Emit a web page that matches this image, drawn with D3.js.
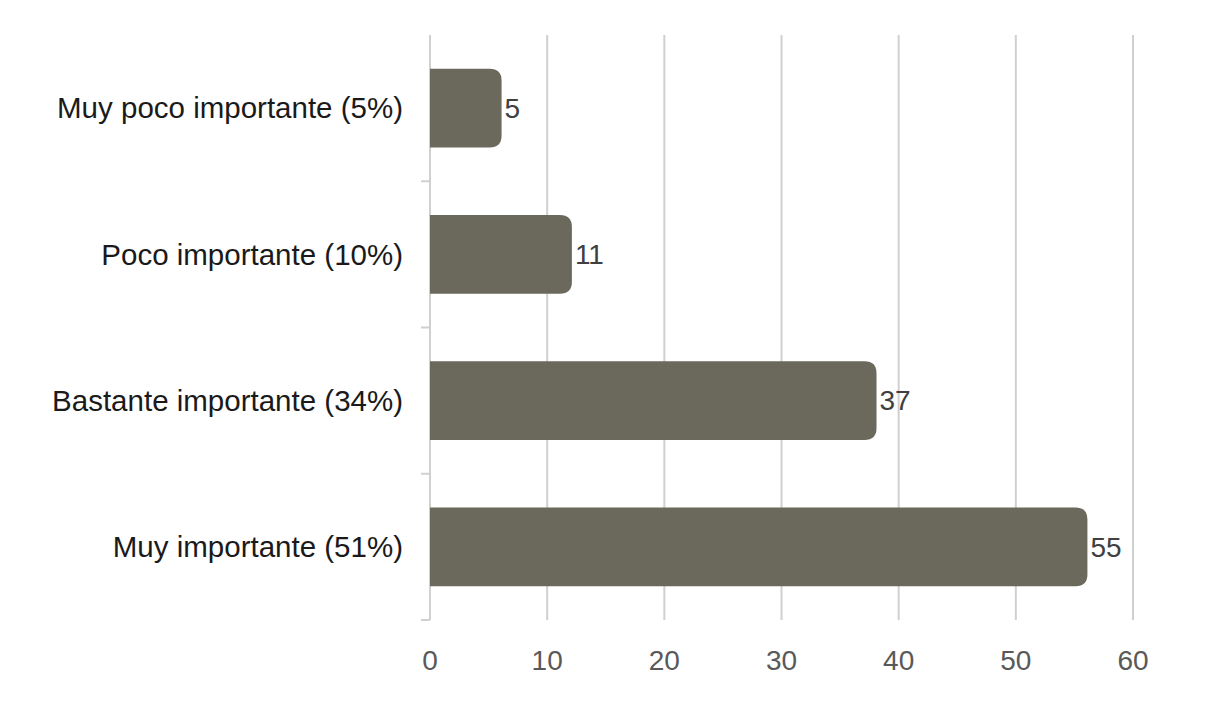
<!DOCTYPE html>
<html><head><meta charset="utf-8">
<script src="https://cdn.jsdelivr.net/npm/d3@7"></script>
<style>body{margin:0;background:#fff;} svg{display:block;font-family:"Liberation Sans",Arial,sans-serif;}</style>
</head><body><svg id="c" width="1206" height="711"></svg>
<script>
const categories = ["Muy poco importante (5%)","Poco importante (10%)","Bastante importante (34%)","Muy importante (51%)"];
const values = [5, 11, 37, 55];
const xTicks = [0, 10, 20, 30, 40, 50, 60];

const svg = d3.select("#c");
const m = {l:430, r:1133, t:35, b:620};
const x = d3.scaleLinear().domain([0,60]).range([m.l, m.r]);
const y = d3.scaleBand().domain(categories).range([m.t, m.b]).paddingInner(0.46).paddingOuter(0.23);
const capExtra = 13, rad = 12;

// gridlines
svg.append("g").selectAll("line").data(xTicks.slice(1)).join("line")
  .attr("x1", d=>x(d)).attr("x2", d=>x(d)).attr("y1", m.t).attr("y2", m.b)
  .attr("stroke","#d0d0d0").attr("stroke-width",2);

// left axis line and category ticks
svg.append("line").attr("x1",m.l).attr("x2",m.l).attr("y1",m.t).attr("y2",m.b).attr("stroke","#d0d0d0").attr("stroke-width",2);
const bounds = categories.map((c,i)=> m.t + (i+1)*(m.b-m.t)/categories.length);
svg.append("g").selectAll("line").data(bounds).join("line")
  .attr("x1", m.l-9).attr("x2", m.l).attr("y1", d=>d).attr("y2", d=>d)
  .attr("stroke","#d0d0d0").attr("stroke-width",2);

// bars: flat left, rounded right
function barPath(x0, x1, y0, h, r){
  return `M${x0},${y0}H${x1-r}Q${x1},${y0} ${x1},${y0+r}V${y0+h-r}Q${x1},${y0+h} ${x1-r},${y0+h}H${x0}Z`;
}
svg.append("g").selectAll("path").data(values).join("path")
  .attr("d",(d,i)=>barPath(x(0), x(d)+capExtra, y(categories[i]), y.bandwidth(), rad))
  .attr("fill","#6b695b");

// value labels
svg.append("g").selectAll("text").data(values).join("text")
  .attr("x",(d)=>x(d)+capExtra+3).attr("y",(d,i)=>y(categories[i])+y.bandwidth()/2)
  .attr("dy","0.35em").attr("font-size",28).attr("fill","#404040").text(d=>d);

// category labels
svg.append("g").selectAll("text").data(categories).join("text")
  .attr("x", 403).attr("y", d=>y(d)+y.bandwidth()/2).attr("dy","0.35em")
  .attr("text-anchor","end").attr("font-size",29.5).attr("fill","#1a1a1a").text(d=>d);

// x tick labels
svg.append("g").selectAll("text").data(xTicks).join("text")
  .attr("x", d=>x(d)).attr("y", 660).attr("dy","0.35em").attr("text-anchor","middle")
  .attr("font-size",28).attr("fill","#595959").text(d=>d);
</script></body></html>
